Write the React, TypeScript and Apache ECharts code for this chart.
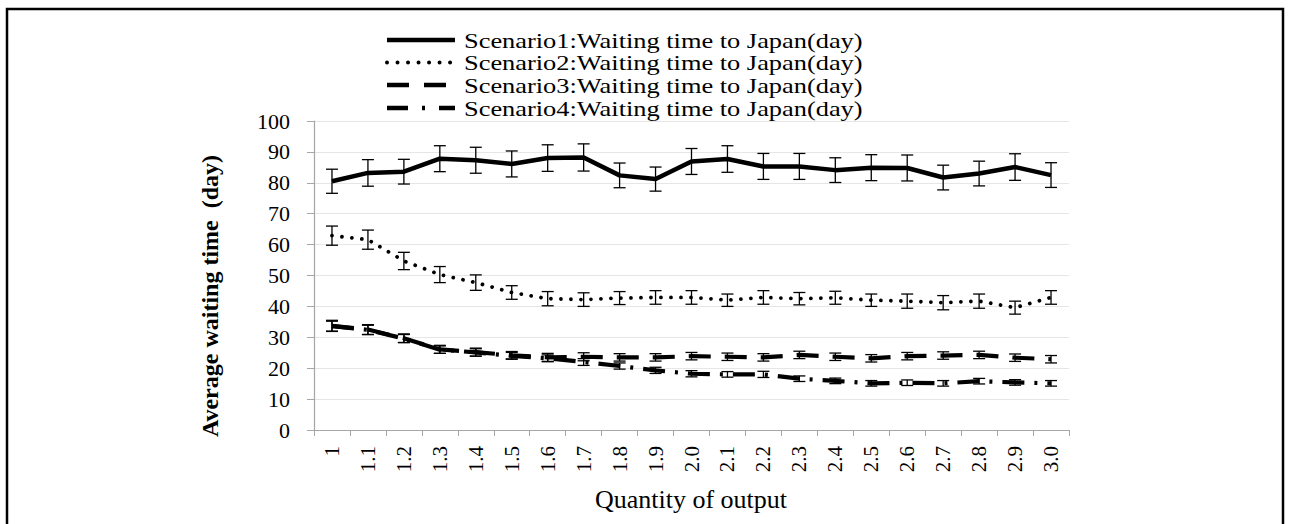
import React, { useEffect, useRef } from 'react';
import * as echarts from 'echarts';

const categories = ['1', '1.1', '1.2', '1.3', '1.4', '1.5', '1.6', '1.7', '1.8', '1.9', '2.0', '2.1', '2.2', '2.3', '2.4', '2.5', '2.6', '2.7', '2.8', '2.9', '3.0'];
const yTicks = [0, 10, 20, 30, 40, 50, 60, 70, 80, 90, 100];

const seriesNames = [
  'Scenario1:Waiting time to Japan(day)',
  'Scenario2:Waiting time to Japan(day)',
  'Scenario3:Waiting time to Japan(day)',
  'Scenario4:Waiting time to Japan(day)',
];

const s1 = [80.5, 83.2, 83.6, 87.8, 87.3, 86.1, 88.0, 88.2, 82.4, 81.2, 86.9, 87.7, 85.3, 85.3, 84.1, 84.9, 84.8, 81.7, 83.0, 85.1, 82.5];
const s1Err = [3.9, 4.3, 4.0, 4.2, 4.2, 4.2, 4.3, 4.4, 4.0, 3.9, 4.2, 4.3, 4.2, 4.2, 4.0, 4.2, 4.2, 4.0, 4.0, 4.3, 4.0];

const s2 = [62.9, 61.6, 54.7, 50.3, 47.7, 44.5, 42.5, 42.2, 42.7, 42.9, 42.9, 42.0, 42.9, 42.5, 42.8, 42.0, 41.7, 41.2, 41.7, 39.6, 42.9];
const s2Err = [3.1, 3.1, 2.8, 2.6, 2.5, 2.2, 2.3, 2.2, 2.1, 2.2, 2.2, 2.0, 2.2, 2.0, 2.1, 2.0, 2.3, 2.3, 2.3, 2.1, 2.2];

const s3 = [33.7, 32.5, 29.7, 26.1, 25.2, 24.2, 23.5, 23.7, 23.5, 23.5, 23.9, 23.7, 23.5, 24.3, 23.7, 23.2, 23.9, 24.1, 24.3, 23.4, 22.9];
const s3Err = [1.8, 1.6, 1.4, 1.3, 1.3, 1.2, 1.3, 1.3, 1.2, 1.2, 1.2, 1.2, 1.2, 1.2, 1.2, 1.2, 1.2, 1.2, 1.2, 1.2, 1.2];

const s4 = [33.6, 32.4, 29.6, 26.0, 25.1, 24.0, 23.2, 22.0, 20.7, 19.3, 18.2, 18.0, 18.0, 16.6, 15.9, 15.1, 15.3, 15.1, 15.8, 15.4, 15.1];
const s4Err = [1.6, 1.5, 1.3, 1.2, 1.2, 1.1, 1.1, 1.1, 1.0, 1.0, 1.0, 0.9, 1.0, 0.9, 0.9, 0.9, 0.9, 0.9, 0.9, 0.9, 0.9];

const FONT = '"Liberation Serif", "Times New Roman", serif';

const dashes: (number[] | 'solid')[] = ['solid', [0.01, 10], [22, 14], [22, 10, 3, 10]];
const widths = [4.5, 3.8, 4.2, 4.2];
const legendDashes: (number[] | null)[] = [null, [0.01, 10.5], [22, 15], [21, 14, 3, 14]];

function errorRender(params: any, api: any) {
  const x = api.value(0);
  const lo = api.coord([x, api.value(1)]);
  const hi = api.coord([x, api.value(2)]);
  const w = 6;
  const style = { stroke: '#000', lineWidth: 1.3, fill: null };
  return {
    type: 'group',
    children: [
      { type: 'line', shape: { x1: lo[0], y1: lo[1], x2: hi[0], y2: hi[1] }, style },
      { type: 'line', shape: { x1: lo[0] - w, y1: lo[1], x2: lo[0] + w, y2: lo[1] }, style },
      { type: 'line', shape: { x1: hi[0] - w, y1: hi[1], x2: hi[0] + w, y2: hi[1] }, style },
    ],
  };
}

export default function App() {
  const ref = useRef<HTMLDivElement>(null);
  useEffect(() => {
    const chart = echarts.init(ref.current!, null, { renderer: 'svg' });
    const all = [s1, s2, s3, s4];
    const errs = [s1Err, s2Err, s3Err, s4Err];

    const lineSeries = all.map((d, i) => ({
      name: seriesNames[i],
      type: 'line',
      data: d,
      showSymbol: false,
      symbol: 'none',
      z: 3,
      lineStyle: {
        color: '#000',
        width: widths[i],
        type: dashes[i],
        cap: i === 1 ? 'round' : 'butt',
        join: 'round',
      },
    }));
    const errSeries = all.map((d, i) => ({
      name: seriesNames[i] + ' error',
      type: 'custom',
      renderItem: errorRender,
      encode: { x: 0, y: [1, 2] },
      z: 4,
      data: d.map((v, k) => [k, v - errs[i][k], v + errs[i][k]]),
    }));

    const legendRows = [40, 62.5, 85, 108];
    const legendGraphics: any[] = [];
    legendRows.forEach((y, i) => {
      legendGraphics.push({
        type: 'polyline',
        shape: { points: [[387, y], [455, y]] },
        style: {
          stroke: '#000',
          lineWidth: i === 1 ? 4 : 4.5,
          lineDash: legendDashes[i],
          lineCap: i === 1 ? 'round' : 'butt',
          fill: null,
        },
      });
      legendGraphics.push({
        type: 'text',
        x: 464,
        y: y,
        scaleX: 1.2,
        style: {
          text: seriesNames[i],
          font: `22px ${FONT}`,
          fill: '#000',
          textVerticalAlign: 'middle',
          textAlign: 'left',
        },
      });
    });

    chart.setOption({
      animation: false,
      backgroundColor: '#fff',
      grid: { left: 314, right: 221, top: 121, bottom: 94, containLabel: false },
      xAxis: {
        type: 'category',
        data: categories,
        boundaryGap: true,
        axisLine: { lineStyle: { color: '#a6a6a6', width: 1.2 } },
        axisTick: { show: true, length: 6, lineStyle: { color: '#a6a6a6' } },
        axisLabel: { rotate: 90, margin: 16, fontSize: 21, fontFamily: FONT, color: '#000' },
        splitLine: { show: false },
      },
      yAxis: {
        type: 'value',
        min: 0,
        max: 100,
        interval: 10,
        axisLine: { show: true, lineStyle: { color: '#a6a6a6', width: 1.2 } },
        axisTick: { show: true, length: 7, lineStyle: { color: '#a6a6a6' } },
        axisLabel: {
          margin: 24,
          fontSize: 22,
          fontFamily: FONT,
          color: '#000',
          formatter: (v: number) => (yTicks.includes(v) ? String(v) : ''),
        },
        splitLine: { show: true, lineStyle: { color: '#e6e6e6', width: 1 } },
      },
      series: [...lineSeries, ...errSeries],
      graphic: [
        {
          type: 'rect',
          shape: { x: 7, y: 9, width: 1276, height: 540 },
          style: { fill: null, stroke: '#000', lineWidth: 2.5 },
          silent: true,
        },
        ...legendGraphics,
        {
          type: 'text',
          x: 210,
          y: 296,
          rotation: Math.PI / 2,
          style: {
            text: 'Average waiting time  (day)',
            font: `bold 24px ${FONT}`,
            fill: '#000',
            textAlign: 'center',
            textVerticalAlign: 'middle',
          },
        },
        {
          type: 'text',
          x: 691,
          y: 499,
          style: {
            text: 'Quantity of output',
            font: `26px ${FONT}`,
            fill: '#000',
            textAlign: 'center',
            textVerticalAlign: 'middle',
          },
        },
      ],
    });
    return () => chart.dispose();
  }, []);
  return (
    <div
      ref={ref}
      style={{ position: 'fixed', left: 0, top: 0, width: 1290, height: 524, background: '#fff' }}
    />
  );
}
